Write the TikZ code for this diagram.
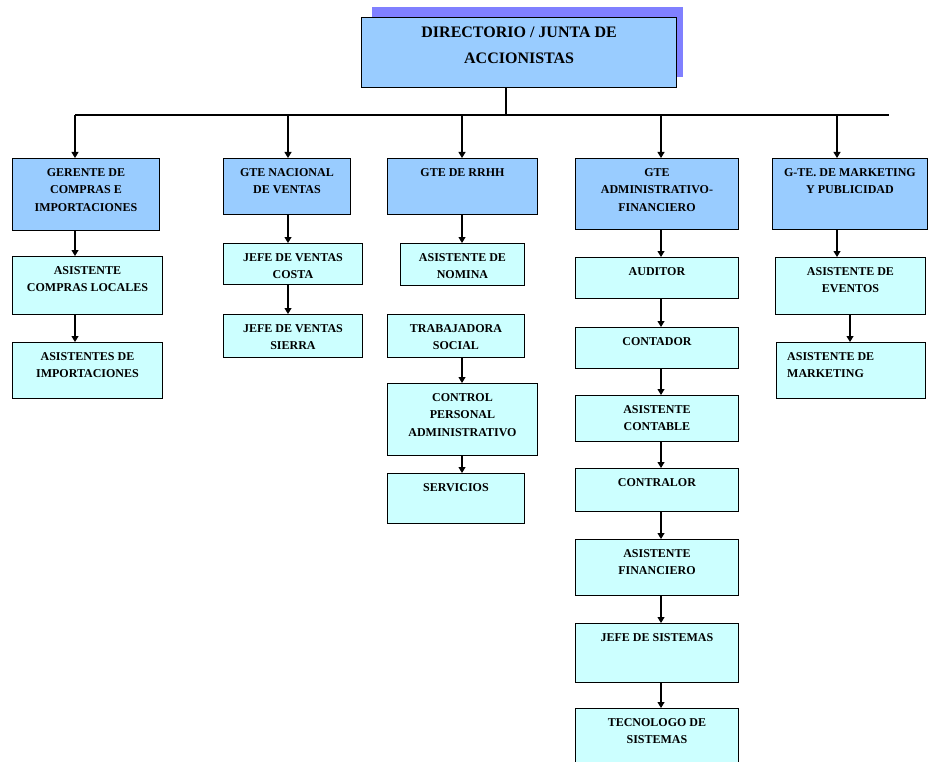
\documentclass[tikz,border=0pt]{standalone}
\usepackage{fontspec}
\setmainfont{Liberation Serif}
\usetikzlibrary{arrows.meta}
\definecolor{jefe}{HTML}{99CCFF}
\definecolor{staff}{HTML}{CCFFFF}
\definecolor{sombra}{HTML}{8080FF}

\begin{document}
\begin{tikzpicture}[x=1pt, y=-1pt,
  caja/.style={draw, line width=0.9pt, anchor=north west, inner sep=0pt},
  gte/.style={caja, fill=jefe},
  aux/.style={caja, fill=staff},
  txt/.style={draw=none, anchor=north, yshift=-6pt, inner sep=4pt, align=center, font=\fontsize{12}{17.5}\selectfont\bfseries},
  flecha/.style={-{Triangle[width=7pt,length=6pt]}, line width=1.1pt}]
  \clip (0,0) rectangle (928,762);

  % Directorio
  \fill[sombra] (372,7) rectangle (683,77);
  \node[gte, line width=1.3pt, minimum width=315, minimum height=70,
    label={[txt, font=\fontsize{16}{26}\selectfont\bfseries]north:{DIRECTORIO / JUNTA DE\\ACCIONISTAS}}] (dir) at (361,17) {};

  % Gerencias
  \node[gte, minimum width=147, minimum height=72, label={[txt]north:{GERENTE DE\\COMPRAS E\\IMPORTACIONES}}] (ger) at (12,158) {};
  \node[gte, minimum width=127, minimum height=56, label={[txt]north:{GTE NACIONAL\\DE VENTAS}}] (gnv) at (223,158) {};
  \node[gte, minimum width=150, minimum height=56, label={[txt]north:{GTE DE RRHH}}] (rrhh) at (387,158) {};
  \node[gte, minimum width=163, minimum height=71, label={[txt]north:{GTE\\ADMINISTRATIVO-\\FINANCIERO}}] (gaf) at (575,158) {};
  \node[gte, minimum width=155, minimum height=71, label={[txt]north:{G-TE. DE MARKETING\\Y PUBLICIDAD}}] (gmp) at (772,158) {};

  % Compras
  \node[aux, minimum width=150, minimum height=58, label={[txt]north:{ASISTENTE\\COMPRAS LOCALES}}] (aco) at (12,256) {};
  \node[aux, minimum width=150, minimum height=56, label={[txt]north:{ASISTENTES DE\\IMPORTACIONES}}] (aim) at (12,342) {};

  % Ventas
  \node[aux, minimum width=139, minimum height=41, label={[txt]north:{JEFE DE VENTAS\\COSTA}}] (jvc) at (223,243) {};
  \node[aux, minimum width=139, minimum height=43, label={[txt]north:{JEFE DE VENTAS\\SIERRA}}] (jvs) at (223,314) {};

  % RRHH
  \node[aux, minimum width=124, minimum height=42, label={[txt]north:{ASISTENTE DE\\NOMINA}}] (nom) at (400,243) {};
  \node[aux, minimum width=137, minimum height=43, label={[txt]north:{TRABAJADORA\\SOCIAL}}] (tso) at (387,314) {};
  \node[aux, minimum width=150, minimum height=72, label={[txt]north:{CONTROL\\PERSONAL\\ADMINISTRATIVO}}] (cpa) at (387,383) {};
  \node[aux, minimum width=137, minimum height=50, label={[txt]north:{SERVICIOS}}] (ser) at (387,473) {};

  % Administrativo financiero
  \node[aux, minimum width=163, minimum height=41, label={[txt]north:{AUDITOR}}] (aud) at (575,257) {};
  \node[aux, minimum width=163, minimum height=41, label={[txt]north:{CONTADOR}}] (con) at (575,327) {};
  \node[aux, minimum width=163, minimum height=46, label={[txt]north:{ASISTENTE\\CONTABLE}}] (aca) at (575,395) {};
  \node[aux, minimum width=163, minimum height=43, label={[txt]north:{CONTRALOR}}] (ctr) at (575,468) {};
  \node[aux, minimum width=163, minimum height=56, label={[txt]north:{ASISTENTE\\FINANCIERO}}] (afi) at (575,539) {};
  \node[aux, minimum width=163, minimum height=59, label={[txt]north:{JEFE DE SISTEMAS}}] (jsi) at (575,623) {};
  \node[aux, minimum width=163, minimum height=70, label={[txt]north:{TECNOLOGO DE\\SISTEMAS}}] (tec) at (575,708) {};

  % Marketing
  \node[aux, minimum width=150, minimum height=57, label={[txt]north:{ASISTENTE DE\\EVENTOS}}] (aev) at (775,257) {};
  \node[aux, minimum width=149, minimum height=56, label={[txt, anchor=north west, align=left, xshift=7pt]north west:{ASISTENTE DE\\MARKETING}}] (amk) at (776,342) {};

  % Lineas
  \coordinate (c0) at (506,115);
  \coordinate (c1) at (75,115);
  \coordinate (c2) at (288,115);
  \coordinate (c3) at (462,115);
  \coordinate (c4) at (661,115);
  \coordinate (c5) at (837,115);
  \coordinate (c6) at (850,115);
  \coordinate (fin) at (889,115);
  \draw[line width=1.1pt] (dir.south -| c0) -- (c0);
  \draw[line width=1.1pt] (c1) -- (fin);
  \draw[flecha] (c1) -- (ger.north -| c1);
  \draw[flecha] (c2) -- (gnv.north -| c2);
  \draw[flecha] (c3) -- (rrhh.north -| c3);
  \draw[flecha] (c4) -- (gaf.north -| c4);
  \draw[flecha] (c5) -- (gmp.north -| c5);

  \draw[flecha] (ger.south -| c1) -- (aco.north -| c1);
  \draw[flecha] (aco.south -| c1) -- (aim.north -| c1);
  \draw[flecha] (gnv.south -| c2) -- (jvc.north -| c2);
  \draw[flecha] (jvc.south -| c2) -- (jvs.north -| c2);
  \draw[flecha] (rrhh.south -| c3) -- (nom.north -| c3);
  \draw[flecha] (tso.south -| c3) -- (cpa.north -| c3);
  \draw[flecha] (cpa.south -| c3) -- (ser.north -| c3);
  \draw[flecha] (gaf.south -| c4) -- (aud.north -| c4);
  \draw[flecha] (aud.south -| c4) -- (con.north -| c4);
  \draw[flecha] (con.south -| c4) -- (aca.north -| c4);
  \draw[flecha] (aca.south -| c4) -- (ctr.north -| c4);
  \draw[flecha] (ctr.south -| c4) -- (afi.north -| c4);
  \draw[flecha] (afi.south -| c4) -- (jsi.north -| c4);
  \draw[flecha] (jsi.south -| c4) -- (tec.north -| c4);
  \draw[flecha] (gmp.south -| c5) -- (aev.north -| c5);
  \draw[flecha] (aev.south -| c6) -- (amk.north -| c6);
\end{tikzpicture}
\end{document}
